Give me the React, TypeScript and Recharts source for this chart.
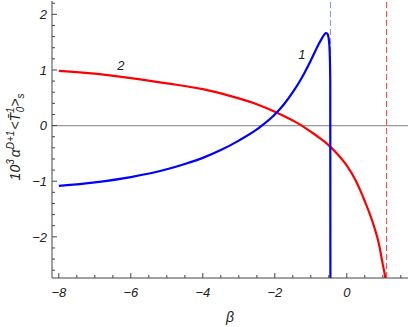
import {
  LineChart, Line, XAxis, YAxis, ReferenceLine, ReferenceDot,
} from 'recharts';

// curve 2 (red)
const redBeta = [-8, -7, -6, -5, -4, -3, -2.5, -2, -1.5, -1.25, -1, -0.75, -0.5, -0.25, 0, 0.25, 0.5, 0.75, 0.9, 1.0, 1.07, 1.1];
const redValue = [0.985, 0.935, 0.855, 0.76, 0.655, 0.49, 0.385, 0.25, 0.09, 0.0, -0.11, -0.225, -0.355, -0.52, -0.72, -0.99, -1.36, -1.8, -2.15, -2.5, -2.74, -2.9];

// curve 1 (blue)
const blueBeta = [-8, -7, -6, -5, -4.5, -4, -3.5, -3, -2.5, -2.36, -2, -1.75, -1.5, -1.25, -1, -0.8, -0.7, -0.62, -0.58, -0.54, -0.51, -0.485, -0.47, -0.46, -0.455];
const blueValue = [-1.085, -1.02, -0.925, -0.785, -0.69, -0.58, -0.44, -0.27, -0.07, 0.0, 0.2, 0.38, 0.6, 0.86, 1.17, 1.44, 1.56, 1.64, 1.665, 1.65, 1.59, 1.45, 1.2, 0.8, -3.0];

const blueAsymptote = -0.455;
const redAsymptote = 1.105;

const xTicks = [-8, -7.5, -7, -6.5, -6, -5.5, -5, -4.5, -4, -3.5, -3, -2.5, -2, -1.5, -1, -0.5, 0, 0.5, 1, 1.5];
const xMajor = [-8, -6, -4, -2, 0];
const yTicks = [-2.6, -2.4, -2.2, -2, -1.8, -1.6, -1.4, -1.2, -1, -0.8, -0.6, -0.4, -0.2, 0, 0.2, 0.4, 0.6, 0.8, 1, 1.2, 1.4, 1.6, 1.8, 2, 2.2];
const yMajor = [-2, -1, 0, 1, 2];

const redData = redBeta.map((x, i) => ({ x, v: redValue[i] }));
const blueData = blueBeta.map((x, i) => ({ x, v: blueValue[i] }));

const FONT = '"Liberation Sans", Arial, sans-serif';
const AXIS = '#444';

const fmt = (v: number) => (v < 0 ? `\u2212${Math.abs(v)}` : `${v}`);
const isMajor = (list: number[], v: number) => list.some((m) => Math.abs(m - v) < 1e-6);

function BottomTick({ x, y, payload }: any) {
  const major = isMajor(xMajor, payload.value);
  return (
    <g>
      <line x1={x} x2={x} y1={y} y2={y - (major ? 5 : 3)} stroke={AXIS} />
      {major && (
        <text x={x} y={y + 19} textAnchor="middle" fontSize={13} fontStyle="italic" fontFamily={FONT} fill="#222">
          {fmt(payload.value)}
        </text>
      )}
    </g>
  );
}

function TopTick({ x, y, payload }: any) {
  const major = isMajor(xMajor, payload.value);
  return <line x1={x} x2={x} y1={y} y2={y + (major ? 5 : 3)} stroke={AXIS} />;
}

function LeftTick({ x, y, payload }: any) {
  const major = isMajor(yMajor, payload.value);
  return (
    <g>
      <line x1={x} x2={x + (major ? 5 : 3)} y1={y} y2={y} stroke={AXIS} />
      {major && (
        <text x={x - 5} y={y} dy="0.36em" textAnchor="end" fontSize={13} fontStyle="italic" fontFamily={FONT} fill="#222">
          {fmt(payload.value)}
        </text>
      )}
    </g>
  );
}

function RightTick({ x, y, payload }: any) {
  const major = isMajor(yMajor, payload.value);
  return <line x1={x} x2={x - (major ? 5 : 3)} y1={y} y2={y} stroke={AXIS} />;
}

function CurveLabel({ viewBox, text }: any) {
  const cx = viewBox.x + (viewBox.width || 0) / 2;
  const cy = viewBox.y + (viewBox.height || 0) / 2;
  return (
    <text x={cx} y={cy} dy="0.36em" textAnchor="middle" fontSize={13} fontStyle="italic" fontFamily={FONT} fill="#222">
      {text}
    </text>
  );
}

export default function App() {
  return (
    <div style={{ position: 'absolute', left: 0, top: 0 }}>
      <LineChart width={409} height={327} data={redData} margin={{ top: 1, right: 1, bottom: 0, left: 0 }}>
        <XAxis
          xAxisId="b" type="number" dataKey="x" domain={[-8.19, 1.7]} allowDataOverflow
          ticks={xTicks} interval={0} height={49} tickSize={0} tickMargin={0} tickLine={false}
          tick={<BottomTick />} axisLine={{ stroke: AXIS }}
        />
        <XAxis
          xAxisId="t" orientation="top" type="number" dataKey="x" domain={[-8.19, 1.7]} allowDataOverflow
          ticks={xTicks} interval={0} height={0} tickSize={0} tickMargin={0} tickLine={false}
          tick={<TopTick />} axisLine={{ stroke: AXIS }}
        />
        <YAxis
          yAxisId="l" type="number" domain={[-2.74, 2.24]} allowDataOverflow
          ticks={yTicks} interval={0} width={52} tickSize={0} tickMargin={0} tickLine={false}
          tick={<LeftTick />} axisLine={{ stroke: AXIS }}
        />
        <YAxis
          yAxisId="r" orientation="right" type="number" domain={[-2.74, 2.24]} allowDataOverflow
          ticks={yTicks} interval={0} width={0} tickSize={0} tickMargin={0} tickLine={false}
          tick={<RightTick />} axisLine={{ stroke: AXIS }}
        />
        <ReferenceLine xAxisId="b" yAxisId="l" y={0} stroke="#999" strokeWidth={1.3} />
        <ReferenceLine xAxisId="b" yAxisId="l" x={blueAsymptote} stroke="#8a8aff" strokeWidth={1} strokeDasharray="6 3" />
        <ReferenceLine xAxisId="b" yAxisId="l" x={redAsymptote} stroke="#ff4040" strokeWidth={1} strokeDasharray="6 3" />
        <Line
          xAxisId="b" yAxisId="l" data={redData} dataKey="v" type="monotone"
          stroke="#ff0000" strokeWidth={2.2} dot={false} isAnimationActive={false}
        />
        <Line
          xAxisId="b" yAxisId="l" data={blueData} dataKey="v" type="monotone"
          stroke="#0000ff" strokeWidth={2.2} dot={false} isAnimationActive={false}
        />
        <ReferenceDot xAxisId="b" yAxisId="l" x={-1.25} y={1.29} r={0} label={<CurveLabel text="1" />} />
        <ReferenceDot xAxisId="b" yAxisId="l" x={-6.28} y={1.09} r={0} label={<CurveLabel text="2" />} />
        <text x={230} y={322} textAnchor="middle" fontSize={14} fontStyle="italic" fontFamily={FONT} fill="#222">
          β
        </text>
        <text
          transform="translate(20,137) rotate(-90)" textAnchor="middle"
          fontSize={14} fontStyle="italic" fontFamily={FONT} fill="#222"
        >
          <tspan>10</tspan>
          <tspan dy={-6} fontSize={10}>3</tspan>
          <tspan dy={6} dx={2}>α</tspan>
          <tspan dy={-6} fontSize={10}>D+1</tspan>
          <tspan dy={6} dx={1}>&lt;T̄</tspan>
          <tspan dy={-6} fontSize={10}>1</tspan>
          <tspan dy={10} dx={-5} fontSize={10}>0</tspan>
          <tspan dy={-4}>&gt;</tspan>
          <tspan dy={4} fontSize={10}>s</tspan>
        </text>
      </LineChart>
    </div>
  );
}
